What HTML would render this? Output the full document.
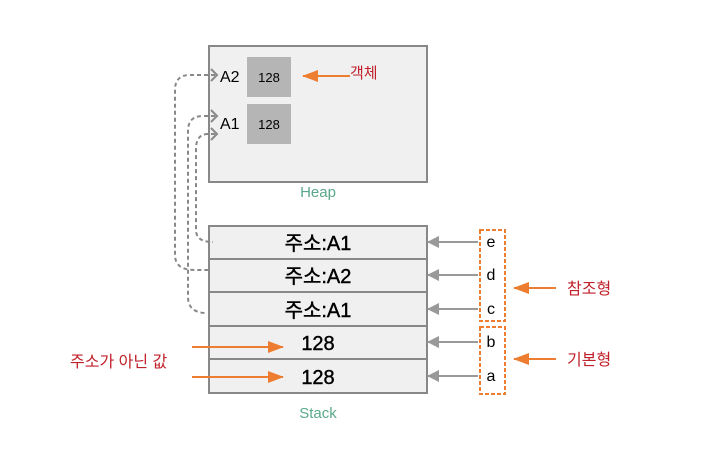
<!DOCTYPE html>
<html><head><meta charset="utf-8"><style>html,body{margin:0;padding:0;background:#fff}svg{display:block}</style></head>
<body>
<svg width="708" height="450" viewBox="0 0 708 450" xmlns="http://www.w3.org/2000/svg" font-family="'Liberation Sans','Noto Sans CJK KR',sans-serif">
<defs>
<marker id="g" markerWidth="12" markerHeight="12" refX="11" refY="6" orient="auto" markerUnits="userSpaceOnUse"><path d="M0,0 L12,6 L0,12 z" fill="#999"/></marker>
<marker id="o" markerWidth="16" markerHeight="12" refX="15" refY="6" orient="auto" markerUnits="userSpaceOnUse"><path d="M0,0 L16,6 L0,12 z" fill="#ed7d31"/></marker>
</defs>
<rect x="209" y="46" width="218" height="136" fill="#f0f0f0" stroke="#888" stroke-width="2"/>
<rect x="247" y="57" width="44" height="40" fill="#b5b5b5"/>
<rect x="247" y="104" width="44" height="40" fill="#b5b5b5"/>
<text x="269" y="82" font-size="13" text-anchor="middle">128</text>
<text x="269" y="129" font-size="13" text-anchor="middle">128</text>
<text x="220" y="82" font-size="16">A2</text>
<text x="220" y="129" font-size="16">A1</text>
<text x="318" y="197" font-size="15" fill="#5aa88a" text-anchor="middle">Heap</text>
<line x1="350" y1="76" x2="303" y2="76" stroke="#ed7d31" stroke-width="2" marker-end="url(#o)"/>
<text x="350" y="78" font-size="15" fill="#c0202a">객체</text>
<g fill="#f0f0f0" stroke="#888" stroke-width="2">
<rect x="209" y="226" width="218" height="33"/><rect x="209" y="259" width="218" height="33"/><rect x="209" y="292" width="218" height="34"/><rect x="209" y="326" width="218" height="33"/><rect x="209" y="359" width="218" height="34"/>
</g>
<g font-size="20" text-anchor="middle" stroke="#000" stroke-width="0.4">
<text x="318" y="250">주소:A1</text><text x="318" y="283">주소:A2</text><text x="318" y="317">주소:A1</text><text x="318" y="350">128</text><text x="318" y="384">128</text>
</g>
<text x="318" y="418" font-size="15" fill="#5aa88a" text-anchor="middle">Stack</text>
<g fill="none" stroke="#888" stroke-width="2" stroke-dasharray="4,3">
<path d="M215,75 L190,75 Q175,75 175,90 L175,255 Q175,270 195,270 L209,270"/>
<path d="M215,116 L203,116 Q188,116 188,131 L188,297 Q188,312 205,313"/>
<path d="M215,134 L208,134 Q196,134 196,149 L196,230 Q196,242 213,242"/>
</g>
<g fill="none" stroke="#888" stroke-width="2">
<path d="M211,69 L217,75 L211,81 M211,110 L217,116 L211,122 M211,128 L217,134 L211,140"/>
</g>
<g stroke="#999" stroke-width="2">
<line x1="478" y1="242" x2="428" y2="242" marker-end="url(#g)"/>
<line x1="478" y1="275" x2="428" y2="275" marker-end="url(#g)"/>
<line x1="478" y1="309" x2="428" y2="309" marker-end="url(#g)"/>
<line x1="478" y1="342" x2="428" y2="342" marker-end="url(#g)"/>
<line x1="478" y1="376" x2="428" y2="376" marker-end="url(#g)"/>
</g>
<g font-size="16" text-anchor="middle"><text x="491" y="247">e</text><text x="491" y="280">d</text><text x="491" y="314">c</text><text x="491" y="347">b</text><text x="491" y="381">a</text></g>
<g fill="none" stroke="#ed7d31" stroke-width="2" stroke-dasharray="4,2">
<rect x="480" y="230" width="25" height="91"/><rect x="480" y="327" width="25" height="67"/>
</g>
<line x1="556" y1="288" x2="514" y2="288" stroke="#ed7d31" stroke-width="2" marker-end="url(#o)"/>
<line x1="556" y1="359" x2="514" y2="359" stroke="#ed7d31" stroke-width="2" marker-end="url(#o)"/>
<text x="567" y="294" font-size="16" fill="#c0202a">참조형</text>
<text x="567" y="365" font-size="16" fill="#c0202a">기본형</text>
<line x1="192" y1="347" x2="283" y2="347" stroke="#ed7d31" stroke-width="2" marker-end="url(#o)"/>
<line x1="192" y1="377" x2="283" y2="377" stroke="#ed7d31" stroke-width="2" marker-end="url(#o)"/>
<text x="70" y="367" font-size="16" fill="#c0202a">주소가 아닌 값</text>
</svg>
</body></html>
